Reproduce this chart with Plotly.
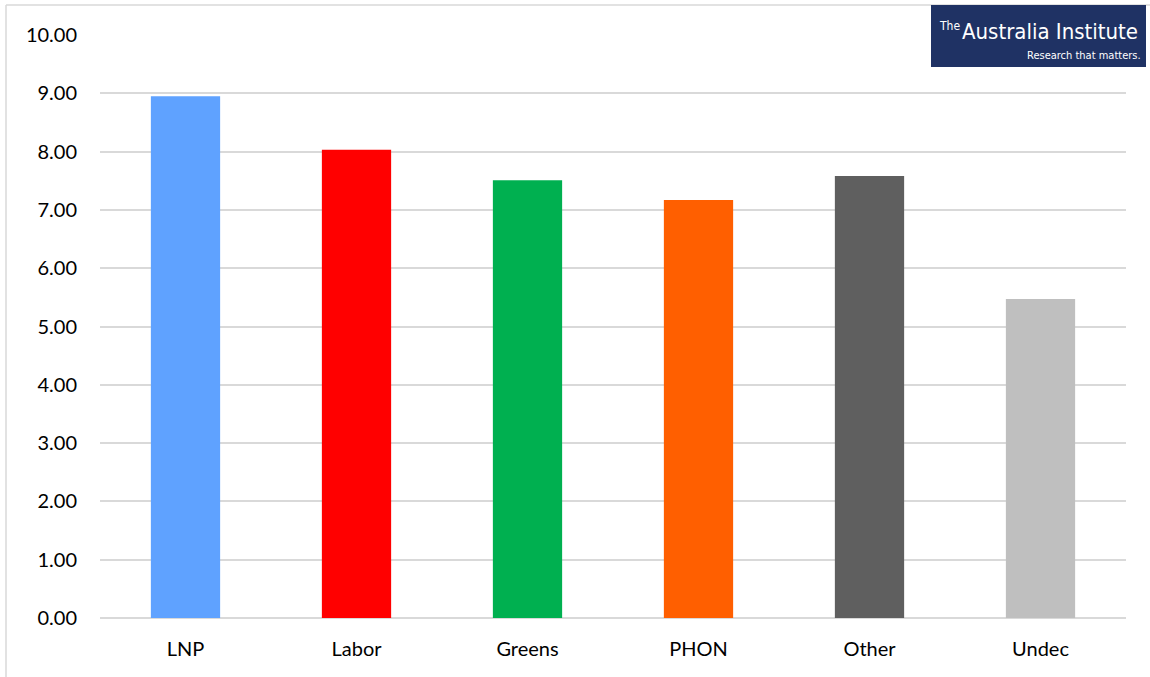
import plotly.graph_objects as go

categories = ["LNP", "Labor", "Greens", "PHON", "Other", "Undec"]
values = [8.95, 8.03, 7.51, 7.17, 7.58, 5.47]
colors = ["#5fa2ff", "#ff0000", "#00b050", "#ff5f00", "#5f5f5f", "#bfbfbf"]
tick_vals = [0, 1, 2, 3, 4, 5, 6, 7, 8, 9, 10]
tick_text = ["%.2f" % v for v in tick_vals]

W, H = 1150, 677
L, R, T, B = 100, 24, 35, 59
pw, ph = W - L - R, H - T - B

def px(x):
    return (x - L) / pw

def py(y):
    return (H - B - y) / ph

fig = go.Figure(go.Bar(x=categories, y=values, marker=dict(color=colors, line=dict(width=0)),
                       hoverinfo="x+y"))

logo_font = "DejaVu Sans Condensed, Liberation Sans Narrow, sans-serif"
border = dict(color="#d9d9d9", width=1.5)

fig.update_layout(
    width=W, height=H,
    margin=dict(l=L, r=R, t=T, b=B),
    paper_bgcolor="white", plot_bgcolor="white",
    bargap=0.595,
    showlegend=False,
    font=dict(family="Lato, Open Sans, sans-serif", size=20, color="#000000"),
    xaxis=dict(showgrid=False, showline=False, zeroline=False, ticks="",
               tickfont=dict(size=20), ticklabelstandoff=17),
    yaxis=dict(range=[0, 10], tickvals=tick_vals, ticktext=tick_text,
               showgrid=True, gridcolor="#d9d9d9", gridwidth=1.5,
               zeroline=True, zerolinecolor="#d9d9d9", zerolinewidth=1.5,
               showline=False, ticks="", ticklabelstandoff=22,
               tickfont=dict(size=20)),
    shapes=[
        dict(type="line", xref="paper", yref="paper",
             x0=px(6), x1=px(6), y0=py(677), y1=py(5), line=border, layer="below"),
        dict(type="line", xref="paper", yref="paper",
             x0=px(6), x1=px(1150), y0=py(5), y1=py(5), line=border, layer="below"),
        dict(type="rect", xref="paper", yref="paper",
             x0=px(931), x1=px(1146), y0=py(67), y1=py(5),
             line=dict(width=0), fillcolor="#1f3264", layer="above"),
    ],
    annotations=[
        dict(xref="paper", yref="paper", x=px(962), y=py(26), xanchor="right", yanchor="middle",
             text="The", showarrow=False,
             font=dict(family=logo_font, size=12, color="white")),
        dict(xref="paper", yref="paper", x=px(960), y=py(31), xanchor="left", yanchor="middle",
             text="Australia Institute", showarrow=False,
             font=dict(family=logo_font, size=22, color="white")),
        dict(xref="paper", yref="paper", x=px(1143), y=py(55), xanchor="right", yanchor="middle",
             text="Research that matters.", showarrow=False,
             font=dict(family=logo_font, size=11, color="white")),
    ],
)

fig.write_html("out.html", config={"displayModeBar": False},
               post_script="document.body.style.margin='0';")
